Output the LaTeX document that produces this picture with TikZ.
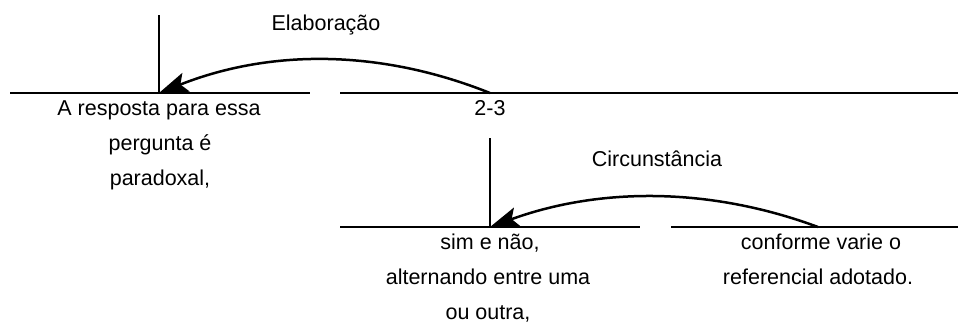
\documentclass[tikz,border=0pt]{standalone}
\usepackage{fontspec}
\setmainfont{Liberation Sans}
\usetikzlibrary{arrows.meta}
\begin{document}
\begin{tikzpicture}[x=1pt,y=-1pt,
  seg/.style={line width=2.7pt},
  rel/.style={line width=2.5pt,-{Stealth[length=29pt,width=20pt,inset=6pt]}},
  txt/.style={inner sep=0pt,anchor=base,font=\fontsize{21.5}{26}\selectfont}]
\useasboundingbox (0,0) rectangle (958,330);
% span lines
\coordinate (t1a) at (10,93);  \coordinate (t1b) at (310,93);
\coordinate (t2a) at (340,93); \coordinate (t2b) at (958,93);
\coordinate (b1a) at (340,227); \coordinate (b1b) at (640,227);
\coordinate (b2a) at (671,227); \coordinate (b2b) at (958,227);
\draw[seg] (t1a) -- (t1b);
\draw[seg] (t2a) -- (t2b);
\draw[seg] (b1a) -- (b1b);
\draw[seg] (b2a) -- (b2b);
% nucleus verticals
\coordinate (n1top) at (159,15); \coordinate (n1) at (159,93);
\coordinate (n2top) at (490,138); \coordinate (n2) at (490,227);
\draw[seg] (n1top) -- (n1);
\draw[seg] (n2top) -- (n2);
% arcs
\coordinate (s1) at (490,93);
\coordinate (s2) at (818,227);
\draw[rel] (s1) .. controls (380,49) and (270,49) .. (n1);
\draw[rel] (s2) .. controls (710,187) and (600,187) .. (n2);
% labels
\node[txt] (elab) at (326,30) {Elaboração};
\node[txt] (circ) at (657,166) {Circunstância};
% texts
\node[txt] (a1) at (159,115) {A resposta para essa};
\node[txt] (a2) at (160,150) {pergunta é};
\node[txt] (a3) at (160,185) {paradoxal,};
\node[txt] (s23) at (490,115) {2-3};
\node[txt] (b1) at (490,249) {sim e não,};
\node[txt] (b2) at (488,284) {alternando entre uma};
\node[txt] (b3) at (488,319) {ou outra,};
\node[txt] (c1) at (821,249) {conforme varie o};
\node[txt] (c2) at (818,284) {referencial adotado.};
\end{tikzpicture}
\end{document}
